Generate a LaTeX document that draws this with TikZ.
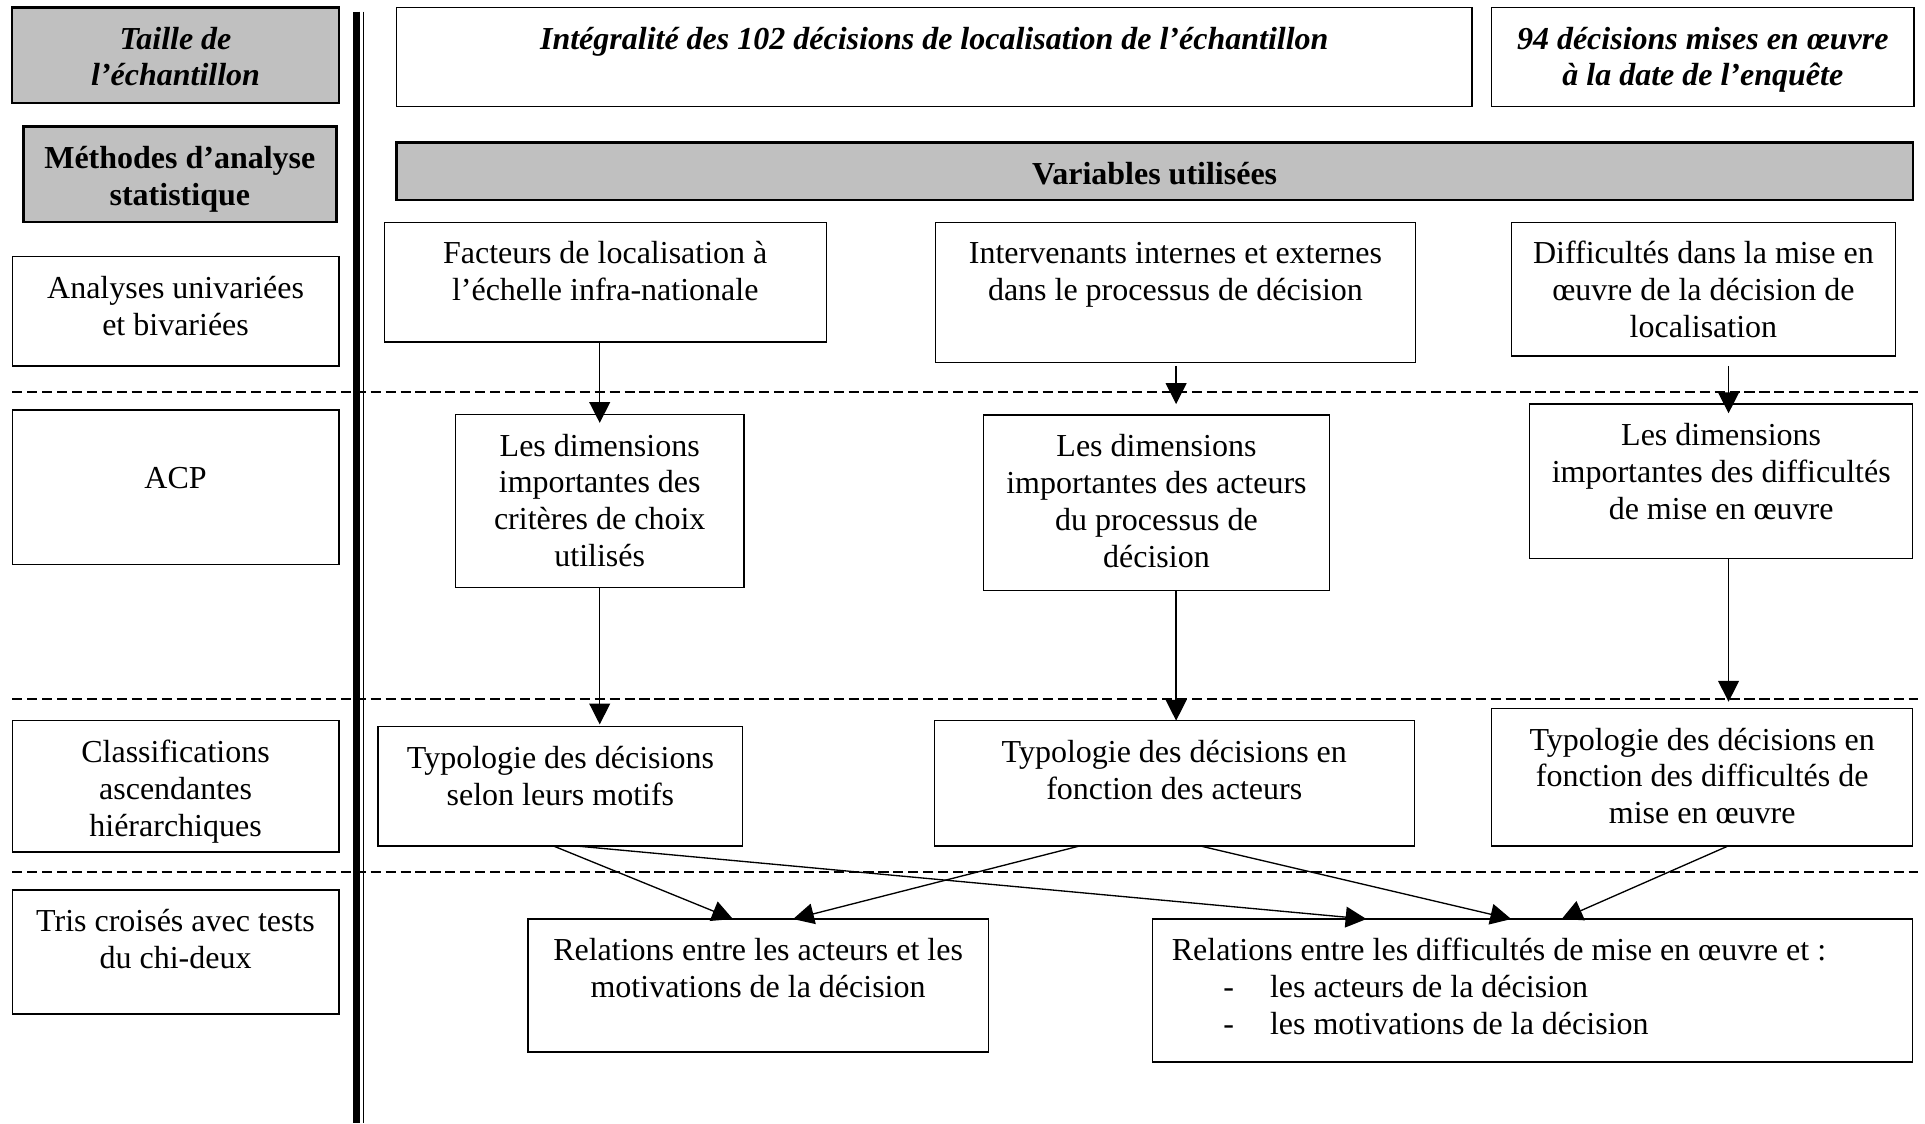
\documentclass[tikz,border=0pt]{standalone}
\usepackage{fontspec}
\setmainfont{Liberation Serif}
\usetikzlibrary{arrows.meta}
\newlength{\unite}
\setlength{\unite}{0.4604pt}
\definecolor{grisclair}{RGB}{192,192,192}
\newcommand{\cadre}[3]{\parbox[c][#2\unite][t]{#1\unite}{\centering\rule{0pt}{34\unite}#3\par}}
\begin{document}
\begin{tikzpicture}[x=0.4604pt, y=-0.4604pt,
	boite/.style={draw, line width=0.5pt, inner sep=0pt, outer sep=0pt, anchor=north west, font=\fontsize{12}{13.8}\selectfont},
	titre/.style={boite, fill=grisclair, line width=0.9pt},
	fleche/.style={line width=0.5pt, -{Triangle[length=7.8pt, width=7.8pt]}},
	pointille/.style={line width=0.65pt, dash pattern=on 3.8pt off 1.8pt}]
	\useasboundingbox (0, 0) rectangle (1568, 915);

		\foreach \y in {319, 569.5, 710}
			\draw[pointille] (10, \y) to (1562, \y);
		\draw[line width=2.76pt] (290.5, 9.5) to (290.5, 915);
		\draw[line width=0.6pt] (296, 9.5) to (296, 915);

		\node[titre] (taille) at (10, 6) {\cadre{266}{78}{\bfseries\itshape Taille de\\l’échantillon}};
		\node[titre] (methodes) at (19, 103) {\cadre{255}{78}{\bfseries Méthodes d’analyse\\statistique}};
		\node[boite] (analyses) at (10, 209) {\cadre{266}{89}{Analyses univariées\\et bivariées}};
		\node[boite] (acp) at (10, 334) {\cadre{266}{126}{\\ACP}};
		\node[boite] (classif) at (10, 587) {\cadre{266}{107}{Classifications\\ascendantes\\hiérarchiques}};
		\node[boite] (tris) at (10, 725) {\cadre{266}{101}{Tris croisés avec tests\\du chi-deux}};

		\node[boite] (integral) at (323, 6) {\cadre{876}{81}{\bfseries\itshape Intégralité des 102 décisions de localisation de l’échantillon}};
		\node[boite] (enquete) at (1215, 6) {\cadre{344}{81}{\bfseries\itshape 94 décisions mises en œuvre\\à la date de l’enquête}};
		\node[titre] (variables) at (323, 116) {\cadre{1235}{47}{\bfseries Variables utilisées}};

		\node[boite] (facteurs) at (313, 181) {\cadre{360}{97.5}{Facteurs de localisation à\\l’échelle infra-nationale}};
		\node[boite] (intervenants) at (762, 181) {\cadre{391}{114.5}{Intervenants internes et externes\\dans le processus de décision}};
		\node[boite] (difficultes) at (1231, 181) {\cadre{313}{109}{Difficultés dans la mise en\\œuvre de la décision de\\localisation}};

		\node[boite] (dimcrit) at (371, 337.5) {\cadre{235}{141}{Les dimensions\\importantes des\\critères de choix\\utilisés}};
		\node[boite] (dimact) at (801, 338) {\cadre{282}{143}{Les dimensions\\importantes des acteurs\\du processus de\\décision}};
		\node[boite] (dimdiff) at (1246, 329) {\cadre{312}{126}{Les dimensions\\importantes des difficultés\\de mise en œuvre}};

		\node[boite] (typmot) at (308, 592) {\cadre{297}{97}{Typologie des décisions\\selon leurs motifs}};
		\node[boite] (typact) at (761, 587) {\cadre{391}{102}{Typologie des décisions en\\fonction des acteurs}};
		\node[boite] (typdiff) at (1215, 577) {\cadre{343}{112}{Typologie des décisions en\\fonction des difficultés de\\mise en œuvre}};

		\node[boite] (relact) at (430, 748.6) {\cadre{375}{108.4}{Relations entre les acteurs et les\\motivations de la décision}};
		\node[boite] (reldiff) at (938.5, 748.6) {\parbox[c][116.4\unite][t]{619.5\unite}{\raggedright\rule{0pt}{34\unite}\hspace*{16\unite}Relations entre les difficultés de mise en œuvre et :\\
			\hspace*{58\unite}\makebox[38\unite][l]{-}les acteurs de la décision\\
			\hspace*{58\unite}\makebox[38\unite][l]{-}les motivations de la décision}};

		\coordinate (colA) at (488.5, 0);
		\coordinate (colB) at (958, 0);
		\coordinate (colC) at (1408, 0);

		\draw[fleche, shorten >=-3.2pt] (colA |- facteurs.south) to (colA |- dimcrit.north);
		\draw[fleche, shorten <=1.2pt, shorten >=4.1pt] (colB |- intervenants.south) to (colB |- dimact.north);
		\draw[fleche, shorten <=3.7pt, shorten >=-3.5pt] (colC |- difficultes.south) to (colC |- dimdiff.north);
		\draw[fleche, shorten >=0.9pt] (colA |- dimcrit.south) to (colA |- typmot.north);
		\draw[fleche] (colB |- dimact.south) to (colB |- typact.north);
		\draw[fleche, shorten >=2.5pt] (colC |- dimdiff.south) to (colC |- typdiff.north);

		\draw[fleche] ([xshift=-5.9\unite]typmot.south) to ([xshift=-20.5\unite]relact.north);
		\draw[fleche] ([xshift=11.9\unite]typmot.south) to ([xshift=-135.2\unite]reldiff.north);
		\draw[fleche] ([xshift=-76.8\unite]typact.south) to ([xshift=28.5\unite]relact.north);
		\draw[fleche] ([xshift=20.9\unite]typact.south) to ([xshift=-17.3\unite]reldiff.north);
		\draw[fleche] ([xshift=21.3\unite]typdiff.south) to ([xshift=23.8\unite]reldiff.north);
\end{tikzpicture}
\end{document}
